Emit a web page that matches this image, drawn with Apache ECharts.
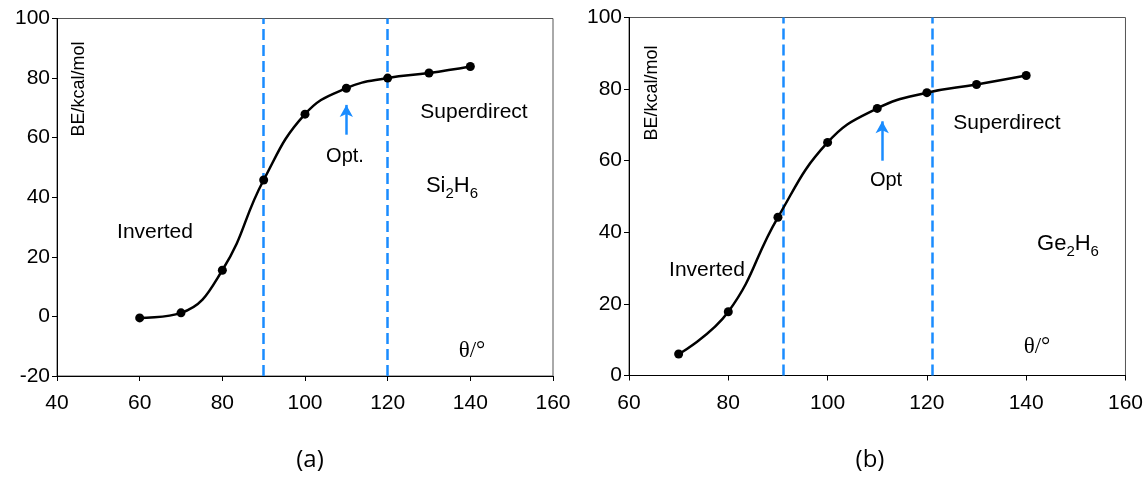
<!DOCTYPE html>
<html>
<head>
<meta charset="utf-8">
<script src="https://cdn.jsdelivr.net/npm/echarts@6/dist/echarts.min.js"></script>
<style>
  html, body { margin: 0; padding: 0; background: #fff; }
  #main { width: 1146px; height: 497px; }
</style>
</head>
<body>
<div id="main"></div>
<script>
// 数据：(a) Si2H6
const thetaA = [60, 70, 80, 90, 100, 110, 120, 130, 140]
const beA = [-0.5, 1.2, 15.5, 45.8, 67.9, 76.6, 80.0, 81.7, 83.9]
const bordersA = [90, 120]
const optA = [110, 61, 71]   // 箭头: x, 起点y, 终点y

// 数据：(b) Ge2H6
const thetaB = [70, 80, 90, 100, 110, 120, 130, 140]
const beB = [6.0, 17.8, 44.2, 65.1, 74.6, 79.0, 81.3, 83.8]
const bordersB = [91, 121]
const optB = [111, 60, 71]

// 刻度
const xTicksA = [40, 60, 80, 100, 120, 140, 160]
const yTicksA = [-20, 0, 20, 40, 60, 80, 100]
const xTicksB = [60, 80, 100, 120, 140, 160]
const yTicksB = [0, 20, 40, 60, 80, 100]

const font = 'Liberation Sans, Arial, sans-serif'
const blue = '#1a8cff'

function xAxis(idx, ticks) {
    return {
        type: 'value', gridIndex: idx,
        min: ticks[0], max: ticks[ticks.length - 1], interval: 20,
        axisLine: { onZero: false, lineStyle: { color: '#000', width: 1 } },
        axisTick: { inside: false, length: 5, lineStyle: { color: '#000' } },
        axisLabel: { color: '#000', fontSize: 21, fontFamily: font, margin: 17 },
        splitLine: { show: false }
    }
}
function yAxis(idx, ticks) {
    return {
        type: 'value', gridIndex: idx,
        min: ticks[0], max: ticks[ticks.length - 1], interval: 20,
        axisLine: { show: true, onZero: false, lineStyle: { color: '#000', width: 1 } },
        axisTick: { show: true, length: 5, lineStyle: { color: '#000' } },
        axisLabel: { color: '#000', fontSize: 21, fontFamily: font, margin: 7 },
        splitLine: { show: false }
    }
}

function zip(xs, ys) {
    return xs.map((x, i) => [x, ys[i]])
}

function curve(idx, xs, ys, borders, opt) {
    return {
        type: 'line', xAxisIndex: idx, yAxisIndex: idx,
        data: zip(xs, ys),
        smooth: 0.45,
        symbol: 'circle', symbolSize: 9,
        itemStyle: { color: '#000' },
        lineStyle: { color: '#000', width: 2.5 },
        z: 5,
        markLine: {
            silent: true,
            animation: false,
            symbol: ['none', 'none'],
            label: { show: false },
            lineStyle: { color: blue, width: 2.5, type: [11, 5] },
            data: [
                { xAxis: borders[0] },
                { xAxis: borders[1] },
                [
                    { coord: [opt[0], opt[1]], lineStyle: { color: blue, width: 2.5, type: 'solid' } },
                    { coord: [opt[0], opt[2]], symbol: 'arrow', symbolSize: [10, 12] }
                ]
            ]
        }
    }
}

function txt(x, y, text, size, extra, rot) {
    return {
        type: 'text', x: x, y: y, rotation: rot || 0,
        style: Object.assign({
            text: text, fill: '#000',
            font: size + 'px ' + font,
            textAlign: 'center', textVerticalAlign: 'middle'
        }, extra || {})
    }
}

function formula(x, y, a) {
    return {
        type: 'text', x: x, y: y,
        style: {
            text: `{n|${a}}{s|2}{n|H}{s|6}`,
            textAlign: 'center', textVerticalAlign: 'middle',
            rich: {
                n: { fontSize: 22, fontFamily: font, fill: '#000', verticalAlign: 'bottom', lineHeight: 26 },
                s: { fontSize: 15, fontFamily: font, fill: '#000', verticalAlign: 'bottom', lineHeight: 18, padding: [0, 0, -4, 0] }
            }
        }
    }
}

const serif = '23px Liberation Serif, Times New Roman, serif'

var myChart = echarts.init(document.getElementById('main'))

var option = {
    backgroundColor: '#fff',
    animation: false,
    grid: [
        { left: 57, top: 18.5, width: 496, height: 357.5, show: true, borderColor: '#555', borderWidth: 1 },
        { left: 629, top: 17.5, width: 498, height: 358, show: true, borderColor: '#555', borderWidth: 1 }
    ],
    xAxis: [xAxis(0, xTicksA), xAxis(1, xTicksB)],
    yAxis: [yAxis(0, yTicksA), yAxis(1, yTicksB)],
    series: [
        curve(0, thetaA, beA, bordersA, optA),
        curve(1, thetaB, beB, bordersB, optB)
    ],
    graphic: [
        // (a)
        txt(79, 89, 'BE/kcal/mol', 18, null, Math.PI / 2),
        txt(155, 232, 'Inverted', 21),
        txt(345, 156, 'Opt.', 20),
        txt(474, 112, 'Superdirect', 21),
        formula(452, 184, 'Si'),
        txt(472, 351, 'θ/°', 23, { font: serif }),
        txt(310, 460, '(a)', 24, { font: '24px Open Sans, sans-serif' }),
        // (b)
        txt(652, 93, 'BE/kcal/mol', 18, null, Math.PI / 2),
        txt(707, 270, 'Inverted', 21),
        txt(886, 180, 'Opt', 20),
        txt(1007, 123, 'Superdirect', 21),
        formula(1068, 242, 'Ge'),
        txt(1037, 347, 'θ/°', 23, { font: serif }),
        txt(870, 460, '(b)', 24, { font: '24px Open Sans, sans-serif' })
    ]
}

option && myChart.setOption(option)
</script>
</body>
</html>
